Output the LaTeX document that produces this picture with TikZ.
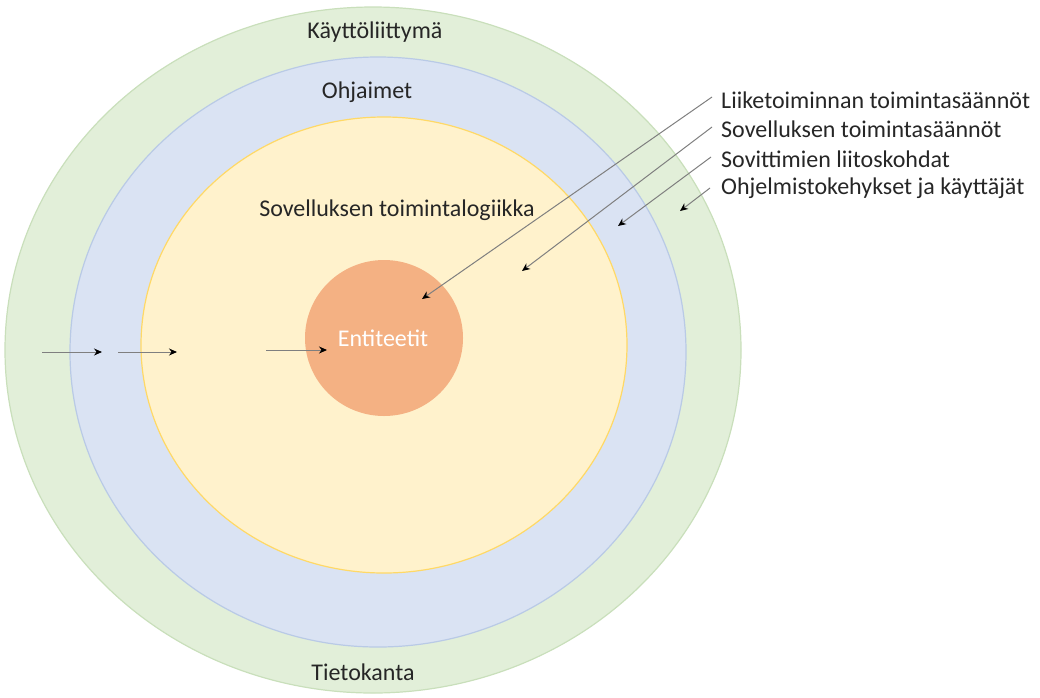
\documentclass[tikz,border=0pt]{standalone}
\usepackage{fontspec}
\setmainfont{Carlito}
\usetikzlibrary{shapes.geometric,arrows.meta}
\definecolor{greenfill}{HTML}{E2EFD9}
\definecolor{greenline}{HTML}{C9DFBB}
\definecolor{bluefill}{HTML}{DAE3F3}
\definecolor{blueline}{HTML}{B9CAE6}
\definecolor{yellowfill}{HTML}{FFF2CC}
\definecolor{yellowline}{HTML}{FFD966}
\definecolor{orangefill}{HTML}{F4B183}
\definecolor{textdark}{HTML}{262626}
\definecolor{leader}{HTML}{7F7F7F}
\tikzset{
  layer/.style={ellipse, inner sep=0pt, outer sep=0pt, line width=1.2pt},
  lbl/.style={text=textdark, font=\fontsize{24}{28}\selectfont, inner sep=0pt},
  sidelbl/.style={lbl, anchor=west},
  pointer/.style={draw=leader, line width=1pt, -{Stealth[length=8pt,width=7pt,black]}}
}
\begin{document}
\begin{tikzpicture}[x=1pt,y=-1pt]
\useasboundingbox (0,0) rectangle (1040,697);
% nested layers
\node[layer, draw=greenline, fill=greenfill, minimum width=736pt, minimum height=686pt] (ui) at (373,350) {};
\node[layer, draw=blueline, fill=bluefill, minimum width=616pt, minimum height=590pt] (ctrl) at (378,352) {};
\node[layer, draw=yellowline, fill=yellowfill, minimum width=486pt, minimum height=456pt] (logic) at (384,345) {};
\node[layer, draw=none, fill=orangefill, minimum width=158pt, minimum height=156pt] (ent) at (384,338) {};
% layer titles
\node[lbl] (tui) at (375,32) {Käyttöliittymä};
\node[lbl] (tctrl) at (367,92) {Ohjaimet};
\node[lbl] (tlogic) at (397,210) {Sovelluksen toimintalogiikka};
\node[lbl, text=white] (tent) at (383,338) {Entiteetit};
\node[lbl] (tdb) at (363,672) {Tietokanta};
% rule labels on the right
\node[sidelbl] (r1) at (721,100) {Liiketoiminnan toimintasäännöt};
\node[sidelbl] (r2) at (721,129.5) {Sovelluksen toimintasäännöt};
\node[sidelbl] (r3) at (721,159) {Sovittimien liitoskohdat};
\node[sidelbl] (r4) at (721,188.5) {Ohjelmistokehykset ja käyttäjät};
% pointer targets
\coordinate (p1) at (422,299);
\coordinate (p2) at (522,271);
\coordinate (p3) at (618,226);
\coordinate (p4) at (680,211);
\coordinate (s1) at (712,97);
\coordinate (s2) at (712,127);
\coordinate (s3) at (711,157);
\coordinate (s4) at (710,188);
\draw[pointer] (s1) -- (p1);
\draw[pointer] (s2) -- (p2);
\draw[pointer] (s3) -- (p3);
\draw[pointer] (s4) -- (p4);
% inward flow on the left
\coordinate (a1) at (42,352);
\coordinate (b1) at (102,352);
\coordinate (a2) at (118,352);
\coordinate (b2) at (177,352);
\coordinate (a3) at (266,350);
\coordinate (b3) at (327,350);
\draw[pointer] (a1) -- (b1);
\draw[pointer] (a2) -- (b2);
\draw[pointer] (a3) -- (b3);
\end{tikzpicture}
\end{document}
